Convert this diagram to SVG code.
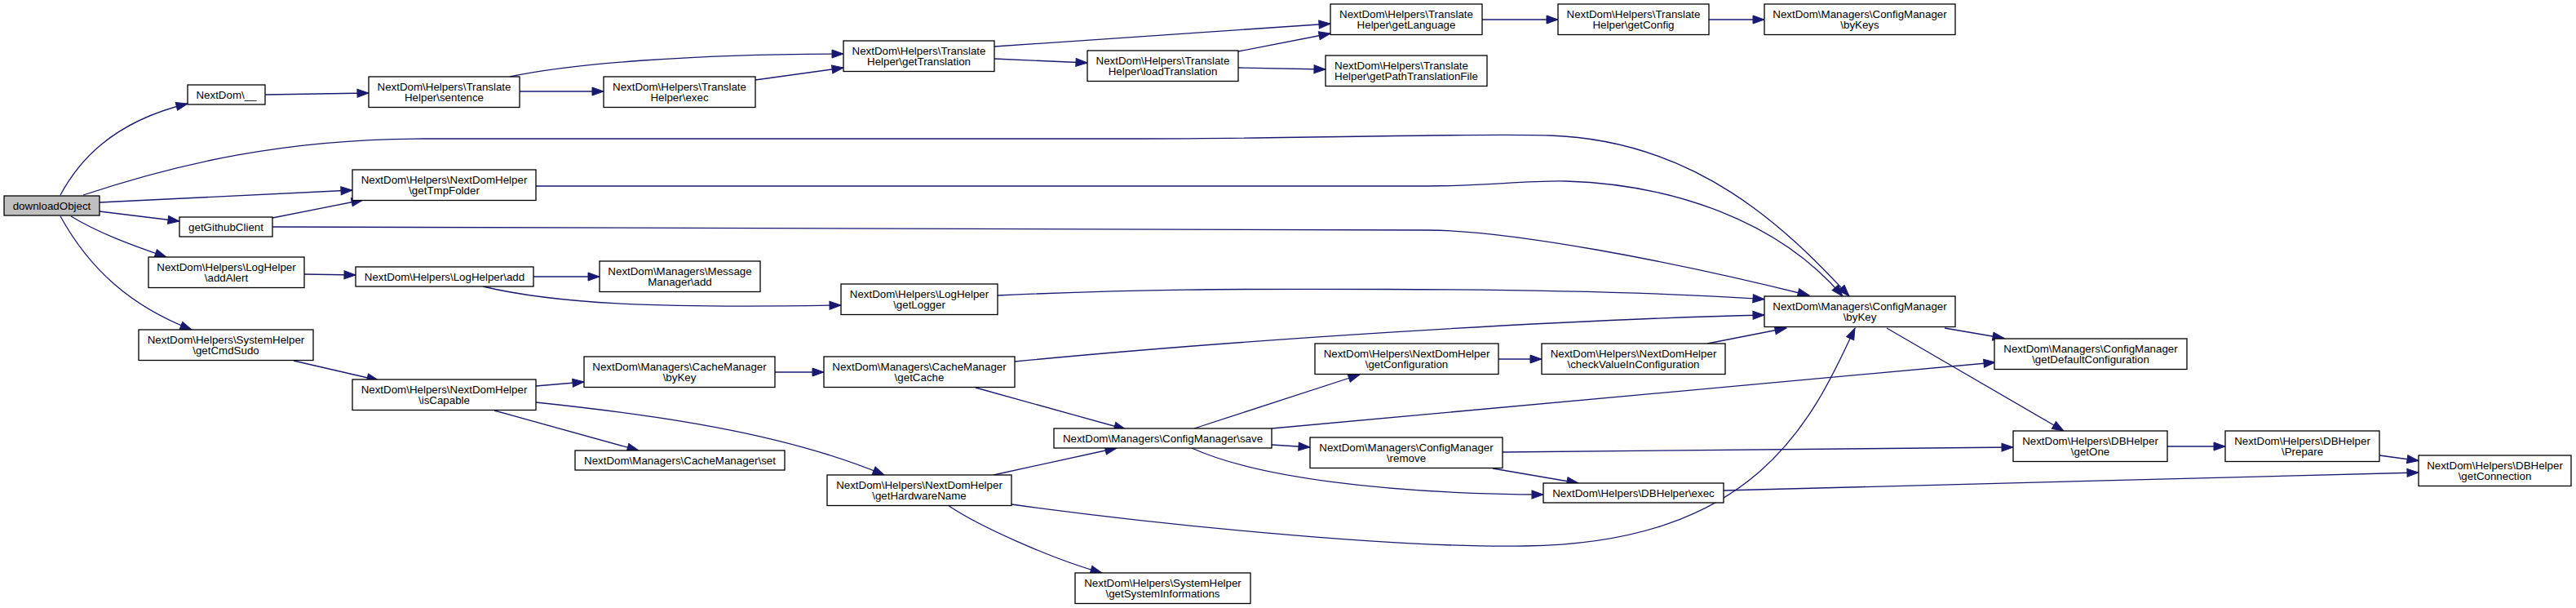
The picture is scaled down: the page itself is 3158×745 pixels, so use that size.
<svg xmlns="http://www.w3.org/2000/svg" width="3158" height="745" viewBox="0 0 3158 745">
<style>
.n rect{fill:#fff;stroke:#000;stroke-width:1.3}
.n text{font-family:"Liberation Sans",Arial,Helvetica,sans-serif;font-size:13.33px;text-anchor:middle;fill:#000}
.n text.l{text-anchor:start}
.e path{fill:none;stroke:#191970;stroke-width:1.3;marker-end:url(#a)}
</style>
<defs>
<marker id="a" markerUnits="userSpaceOnUse" markerWidth="14" markerHeight="10" refX="14" refY="5" orient="auto" viewBox="0 0 14 10" overflow="visible">
<path d="M0,0 L14,5 L0,10 z" fill="#191970" stroke="#191970" stroke-width="1"/>
</marker>
</defs>
<rect width="3158" height="745" fill="#fff"/>
<g id="edges" class="e">
<path d="M74,239 C95,200 135,150 230,127"/>
<path d="M102,239 C220,200 350,170 520,170 L1400,170 C1600,170 1800,163 1900,166 C2080,172 2190,280 2267,363"/>
<path d="M122,248 L432,233"/>
<path d="M122,259 L220,271"/>
<path d="M87,265 C120,285 160,300 204,315"/>
<path d="M74,265 C110,330 160,375 235,404"/>
<path d="M325,116 L452,114"/>
<path d="M637,112 L740,112"/>
<path d="M625,94 C700,78 850,66 1034,66"/>
<path d="M926,98 L1034,83"/>
<path d="M1219,57 L1631,29"/>
<path d="M1219,72 L1333,77"/>
<path d="M1518,63 L1631,41"/>
<path d="M1518,83 L1625,85"/>
<path d="M1817,24 L1910,24"/>
<path d="M2095,24 L2163,24"/>
<path d="M657,228 L1750,228 C1820,228 1870,221 1920,222 C2050,226 2180,270 2259,363"/>
<path d="M334,267 L445,245"/>
<path d="M334,278 L1750,282 C1850,282 2050,320 2218,362"/>
<path d="M373,336 L436,337"/>
<path d="M654,339 L735,339"/>
<path d="M592,351 C680,372 800,378 1031,374"/>
<path d="M1223,362 C1400,354 1500,354 1700,354.5 C1900,355 2050,359 2163,366.7"/>
<path d="M360,442 L464,466"/>
<path d="M657,473 L716,468"/>
<path d="M606,503 L783,552"/>
<path d="M657,493 C800,508 960,530 1084,582"/>
<path d="M950,456 L1010,456"/>
<path d="M1244,443 C1500,418 1900,392 2163,386"/>
<path d="M1196,475 L1380,526"/>
<path d="M1218,582 L1369,549"/>
<path d="M1162,619 C1200,645 1290,685 1351,702"/>
<path d="M1240,618 C1400,640 1700,672 1870,669 C2150,665 2220,520 2274,402"/>
<path d="M1464,525 L1667,459"/>
<path d="M1559,525 L2446,444"/>
<path d="M1559,545 L1606,548"/>
<path d="M1461,549 C1540,585 1700,605 1892,606"/>
<path d="M1837,440 L1890,440"/>
<path d="M2093,421 L2190,402"/>
<path d="M2384,402 L2457,414.5"/>
<path d="M2313,402 L2530,528"/>
<path d="M1842,554 L2468,548"/>
<path d="M1830,574 L1935,592"/>
<path d="M2113,601 L2965,579"/>
<path d="M2657,547 L2728,547"/>
<path d="M2917,558 L2965,564.5"/>
</g>
<g id="n1" class="n"><rect x="5" y="240" width="117" height="24" style="fill:#bfbfbf"/><text x="63.5" y="257">downloadObject</text></g>
<g id="n2" class="n"><rect x="230" y="104" width="95" height="24"/><text x="277.5" y="121">NextDom\__</text></g>
<g id="n3" class="n"><rect x="452" y="94" width="185" height="37.5"/><text x="544.5" y="111">NextDom\Helpers\Translate</text><text x="544.5" y="124">Helper\sentence</text></g>
<g id="n4" class="n"><rect x="740" y="94" width="186" height="37.5"/><text x="833" y="111">NextDom\Helpers\Translate</text><text x="833" y="124">Helper\exec</text></g>
<g id="n5" class="n"><rect x="1034" y="50" width="185" height="37.5"/><text x="1126.5" y="67">NextDom\Helpers\Translate</text><text x="1126.5" y="80">Helper\getTranslation</text></g>
<g id="n6" class="n"><rect x="1333" y="62" width="185" height="37.5"/><text x="1425.5" y="79">NextDom\Helpers\Translate</text><text x="1425.5" y="92">Helper\loadTranslation</text></g>
<g id="n7" class="n"><rect x="1631" y="5" width="186" height="37.5"/><text x="1724" y="22">NextDom\Helpers\Translate</text><text x="1724" y="35">Helper\getLanguage</text></g>
<g id="n8" class="n"><rect x="1910" y="5" width="185" height="37.5"/><text x="2002.5" y="22">NextDom\Helpers\Translate</text><text x="2002.5" y="35">Helper\getConfig</text></g>
<g id="n9" class="n"><rect x="2163" y="5" width="234" height="37.5"/><text x="2280" y="22">NextDom\Managers\ConfigManager</text><text x="2280" y="35">\byKeys</text></g>
<g id="n10" class="n"><rect x="1625" y="68" width="198" height="37.5"/><text class="l" x="1636" y="85">NextDom\Helpers\Translate</text><text class="l" x="1636" y="98">Helper\getPathTranslationFile</text></g>
<g id="n11" class="n"><rect x="432" y="208" width="225" height="37.5"/><text x="544.5" y="225">NextDom\Helpers\NextDomHelper</text><text x="544.5" y="238">\getTmpFolder</text></g>
<g id="n12" class="n"><rect x="220" y="266" width="114" height="24"/><text x="277" y="283">getGithubClient</text></g>
<g id="n13" class="n"><rect x="182" y="315" width="191" height="37.5"/><text x="277.5" y="332">NextDom\Helpers\LogHelper</text><text x="277.5" y="345">\addAlert</text></g>
<g id="n14" class="n"><rect x="436" y="327" width="218" height="24"/><text x="545" y="344">NextDom\Helpers\LogHelper\add</text></g>
<g id="n15" class="n"><rect x="735" y="320" width="197" height="37.5"/><text x="833.5" y="337">NextDom\Managers\Message</text><text x="833.5" y="350">Manager\add</text></g>
<g id="n16" class="n"><rect x="1031" y="348" width="192" height="37.5"/><text x="1127" y="365">NextDom\Helpers\LogHelper</text><text x="1127" y="378">\getLogger</text></g>
<g id="n17" class="n"><rect x="2163" y="363" width="234" height="37.5"/><text x="2280" y="380">NextDom\Managers\ConfigManager</text><text x="2280" y="393">\byKey</text></g>
<g id="n18" class="n"><rect x="170" y="404" width="214" height="37.5"/><text x="277" y="421">NextDom\Helpers\SystemHelper</text><text x="277" y="434">\getCmdSudo</text></g>
<g id="n19" class="n"><rect x="432" y="465" width="225" height="37.5"/><text x="544.5" y="482">NextDom\Helpers\NextDomHelper</text><text x="544.5" y="495">\isCapable</text></g>
<g id="n20" class="n"><rect x="716" y="437" width="234" height="37.5"/><text x="833" y="454">NextDom\Managers\CacheManager</text><text x="833" y="467">\byKey</text></g>
<g id="n21" class="n"><rect x="705" y="552" width="257" height="24"/><text x="833.5" y="569">NextDom\Managers\CacheManager\set</text></g>
<g id="n22" class="n"><rect x="1010" y="437" width="234" height="37.5"/><text x="1127" y="454">NextDom\Managers\CacheManager</text><text x="1127" y="467">\getCache</text></g>
<g id="n23" class="n"><rect x="1014" y="582" width="226" height="37.5"/><text x="1127" y="599">NextDom\Helpers\NextDomHelper</text><text x="1127" y="612">\getHardwareName</text></g>
<g id="n24" class="n"><rect x="1292" y="525" width="267" height="24"/><text x="1425.5" y="542">NextDom\Managers\ConfigManager\save</text></g>
<g id="n25" class="n"><rect x="1318" y="702" width="215" height="37.5"/><text x="1425.5" y="719">NextDom\Helpers\SystemHelper</text><text x="1425.5" y="732">\getSystemInformations</text></g>
<g id="n26" class="n"><rect x="1612" y="421" width="225" height="37.5"/><text x="1724.5" y="438">NextDom\Helpers\NextDomHelper</text><text x="1724.5" y="451">\getConfiguration</text></g>
<g id="n27" class="n"><rect x="1890" y="421" width="225" height="37.5"/><text x="2002.5" y="438">NextDom\Helpers\NextDomHelper</text><text x="2002.5" y="451">\checkValueInConfiguration</text></g>
<g id="n28" class="n"><rect x="2445" y="415" width="236" height="37.5"/><text x="2563" y="432">NextDom\Managers\ConfigManager</text><text x="2563" y="445">\getDefaultConfiguration</text></g>
<g id="n29" class="n"><rect x="1606" y="536" width="236" height="37.5"/><text x="1724" y="553">NextDom\Managers\ConfigManager</text><text x="1724" y="566">\remove</text></g>
<g id="n30" class="n"><rect x="1892" y="592" width="221" height="24"/><text x="2002.5" y="609">NextDom\Helpers\DBHelper\exec</text></g>
<g id="n31" class="n"><rect x="2468" y="528" width="189" height="37.5"/><text x="2562.5" y="545">NextDom\Helpers\DBHelper</text><text x="2562.5" y="558">\getOne</text></g>
<g id="n32" class="n"><rect x="2728" y="528" width="189" height="37.5"/><text x="2822.5" y="545">NextDom\Helpers\DBHelper</text><text x="2822.5" y="558">\Prepare</text></g>
<g id="n33" class="n"><rect x="2965" y="558" width="187" height="37.5"/><text x="3058.5" y="575">NextDom\Helpers\DBHelper</text><text x="3058.5" y="588">\getConnection</text></g>
</svg>
